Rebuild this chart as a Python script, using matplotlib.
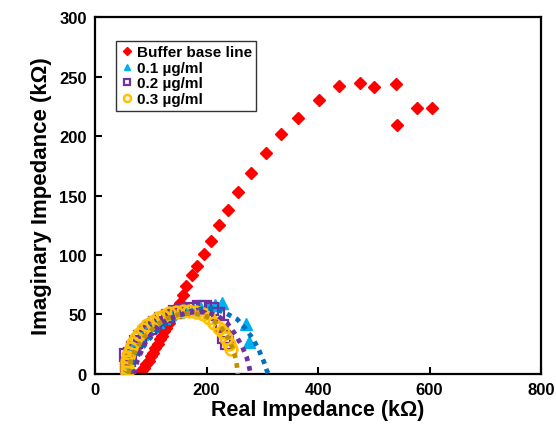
import matplotlib
matplotlib.use("Agg")
import matplotlib.pyplot as plt

plt.rcParams['font.family'] = ['Liberation Sans', 'DejaVu Sans']
plt.rcParams['font.weight'] = 'bold'

# ---- data (kOhm) ----
buffer_x = [82, 85, 88, 92, 96, 100, 104, 108, 112, 116, 120, 124, 128, 132, 137, 142, 147, 152, 158,
            164, 173, 182, 195, 208, 223, 239, 257, 279, 306, 333, 364, 402, 438, 475, 500, 540, 541, 578, 604]
buffer_y = [1, 3, 5, 8, 11, 15, 18, 22, 25, 29, 32, 36, 39, 43, 47, 51, 56, 60, 66,
            74, 83, 91, 101, 112, 125, 138, 153, 169, 186, 202, 215, 230, 242, 245, 241, 244, 209, 224, 224]

c01_x = [57, 57, 58, 60, 63, 67, 72, 78, 85, 93, 102, 112, 123, 135, 148, 161, 175, 189, 203, 216, 228, 271, 276]
c01_y = [2, 6, 10, 14, 18, 22, 26, 30, 34, 38, 41, 44, 47, 50, 52, 54, 55, 56, 57, 58, 60, 42, 27]

c02_x = [55, 57, 58, 60, 63, 68, 74, 81, 89, 98, 108, 119, 131, 144, 158, 172, 186, 198, 210, 220, 228, 232, 236]
c02_y = [16, 3, 8, 12, 17, 22, 27, 31, 35, 39, 43, 46, 49, 52, 54, 55, 56, 56, 55, 50, 40, 31, 26]

c03_x = [57, 57, 58, 58, 59, 61, 64, 68, 73, 79, 86, 94, 103, 112, 122, 133, 145, 157, 169, 181, 193, 204, 214, 222, 229, 235, 240, 243]
c03_y = [2, 5, 8, 11, 14, 18, 22, 26, 30, 34, 38, 41, 44, 47, 49, 51, 52, 53, 53, 52, 50, 47, 43, 39, 35, 30, 25, 21]

fit01_x = [62, 70, 85, 100, 120, 140, 160, 180, 200, 215, 235, 255, 270, 284, 295, 303, 308, 311]
fit01_y = [0, 10, 22, 31, 40, 47, 51, 54, 55, 55, 51, 46, 38, 29, 19, 10, 3, 0]

fit02_x = [70, 75, 82, 92, 105, 120, 135, 155, 175, 200, 220, 237, 252, 264, 272, 276, 279]
fit02_y = [0, 10, 18, 28, 36, 43, 47, 50, 52, 52, 49, 43, 33, 23, 14, 7, 0]

fit03_x = [60, 65, 75, 90, 110, 130, 150, 170, 190, 210, 228, 240, 248, 253, 255, 256]
fit03_y = [0, 12, 22, 32, 41, 47, 50, 51, 50, 46, 38, 29, 20, 12, 5, 0]

labels = ["Buffer base line", "0.1 \u00b5g/ml", "0.2 \u00b5g/ml", "0.3 \u00b5g/ml"]
x_ticks = [0, 200, 400, 600, 800]
y_ticks = [0, 50, 100, 150, 200, 250, 300]

fig = plt.figure(figsize=(5.56, 4.31), dpi=100)
ax = fig.add_axes([0.171, 0.130, 0.802, 0.828])

h1, = ax.plot(buffer_x, buffer_y, 'D', color='#FF0000', ms=6.5, mec='#FF0000', ls='none', zorder=2)
h2, = ax.plot(c01_x, c01_y, '^', color='#00B0F0', ms=8, ls='none', zorder=3)
h3, = ax.plot(c02_x, c02_y, 's', mfc='none', mec='#7030A0', mew=1.6, ms=8, ls='none', zorder=4)
h4, = ax.plot(c03_x, c03_y, 'o', mfc='none', mec='#FFC000', mew=1.8, ms=8.5, ls='none', zorder=5)

ax.plot(fit01_x, fit01_y, color='#0070C0', lw=3.4, ls=(0, (1, 1.1)), zorder=6)
ax.plot(fit02_x, fit02_y, color='#7030A0', lw=3.4, ls=(0, (1, 1.1)), zorder=6)
ax.plot(fit03_x, fit03_y, color='#BF9000', lw=3.4, ls=(0, (1, 1.1)), zorder=6)

ax.set_xlim(0, 800)
ax.set_ylim(0, 300)
ax.set_xticks(x_ticks)
ax.set_yticks(y_ticks)
ax.tick_params(direction='in', length=5, width=1.5, labelsize=12, pad=6)
for lab in ax.get_xticklabels() + ax.get_yticklabels():
    lab.set_fontweight('bold')
for s in ax.spines.values():
    s.set_linewidth(1.6)

ax.set_xlabel("Real Impedance (k\u03a9)", fontsize=15.5, fontweight='bold', labelpad=1)
ax.set_ylabel("Imaginary Impedance (k\u03a9)", fontsize=16, fontweight='bold', labelpad=5)

leg = ax.legend([h1, h2, h3, h4], labels, loc='upper left', bbox_to_anchor=(0.03, 0.955),
                fontsize=11, frameon=True, fancybox=False, handlelength=0.8,
                handletextpad=0.25, borderpad=0.3, labelspacing=0.1, markerscale=0.6)
leg.get_frame().set_edgecolor('black')
leg.get_frame().set_linewidth(1.0)
for t in leg.get_texts():
    t.set_fontweight('bold')

fig.savefig("out.png", dpi=100)
